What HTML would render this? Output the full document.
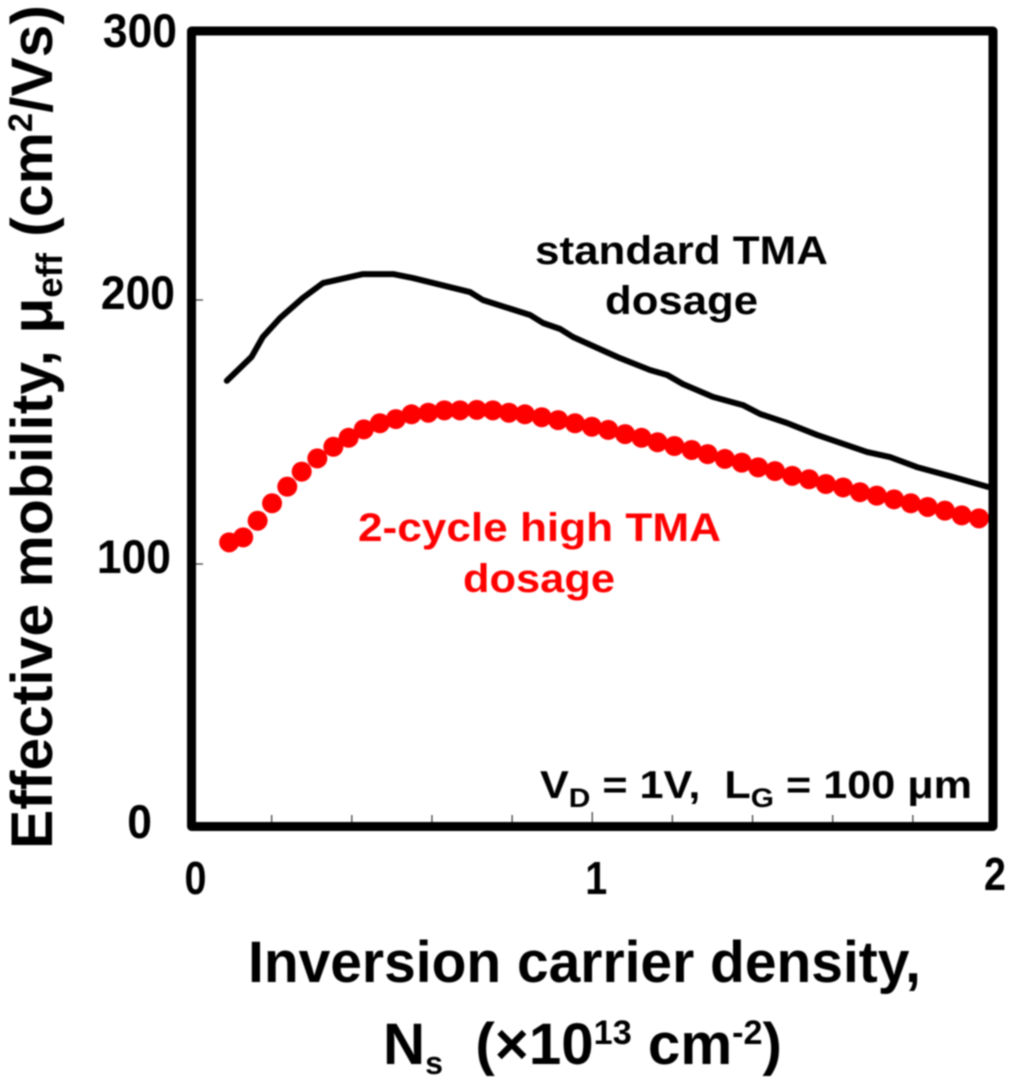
<!DOCTYPE html>
<html>
<head>
<meta charset="utf-8">
<title>Effective mobility vs inversion carrier density</title>
<style>
html,body{margin:0;padding:0;background:#fff;width:1024px;height:1085px;overflow:hidden}
svg{display:block;filter:blur(0.7px)}
text{font-family:"Liberation Sans",sans-serif;font-weight:bold;white-space:pre}
</style>
</head>
<body>
<svg id="chart" width="1024" height="1085" viewBox="0 0 1024 1085" xmlns="http://www.w3.org/2000/svg">
  <rect x="0" y="0" width="1024" height="1085" fill="#fff"/>
  <g id="ticks"></g>
  <g id="tick-labels"></g>
  <g id="series"></g>
  <rect x="191.5" y="31" width="801.5" height="795.5" fill="none" stroke="#000" stroke-width="9" stroke-linejoin="round"/>

  <text transform="translate(52,849) rotate(-90)" font-size="58" fill="#000" textLength="844" lengthAdjust="spacingAndGlyphs">Effective mobility, μ<tspan font-size="36" dy="10">eff</tspan><tspan dy="-10"> (cm</tspan><tspan font-size="34" dy="-20">2</tspan><tspan dy="20">/Vs)</tspan></text>

  <text x="248" y="982" font-size="58" fill="#000" textLength="673" lengthAdjust="spacingAndGlyphs">Inversion carrier density,</text>
  <text x="383" y="1064" font-size="58" fill="#000" textLength="399" lengthAdjust="spacingAndGlyphs">N<tspan font-size="32" dy="10">s</tspan><tspan dy="-10">  (×10</tspan><tspan font-size="34" dy="-20">13</tspan><tspan dy="20"> cm</tspan><tspan font-size="34" dy="-20">-2</tspan><tspan dy="20">)</tspan></text>

  <text x="535" y="264" font-size="40" fill="#000" textLength="293" lengthAdjust="spacingAndGlyphs">standard TMA</text>
  <text x="605" y="314" font-size="40" fill="#000" textLength="153" lengthAdjust="spacingAndGlyphs">dosage</text>
  <text x="358" y="541" font-size="40" fill="#ff0000" textLength="363" lengthAdjust="spacingAndGlyphs">2-cycle high TMA</text>
  <text x="463" y="592" font-size="40" fill="#ff0000" textLength="152" lengthAdjust="spacingAndGlyphs">dosage</text>
  <text x="540" y="798" font-size="39" fill="#000" textLength="432" lengthAdjust="spacingAndGlyphs">V<tspan font-size="27" dy="9">D</tspan><tspan dy="-9"> = 1V,  L</tspan><tspan font-size="27" dy="9">G</tspan><tspan dy="-9"> = 100 μm</tspan></text>
</svg>
<script>
// Chart data (x in 10^13 cm^-2, y in cm^2/Vs)
var xTickValues = [0.2,0.4,0.6,0.8,1,1.2,1.4,1.6,1.8];
var yTickValues = [100,200];
var xTickLabels = ["0","1","2"];
var xLabelValues = [0,1,2];
var yTickLabels = ["0","100","200","300"];
var yLabelValues = [0,100,200,300];

var standardNs = [0.088,0.150,0.178,0.221,0.278,0.328,0.428,0.503,0.553,0.695,0.727,0.845,0.877,0.920,0.952,1.019,1.069,1.144,1.187,1.226,1.301,1.376,1.419,1.486,1.561,1.686,1.743,1.810,1.900,1.987];
var standardMobility = [169.4,178.5,186,193.2,200.8,206.4,209.8,209.8,208.3,203,200,194.3,191.3,189,186,181.4,178,173.5,171.6,168.2,163.3,160.2,156.8,153.4,148.9,142.4,140.5,136.7,133,129.2];

var highNs = [0.094,0.129,0.165,0.201,0.239,0.275,0.314,0.354,0.392,0.430,0.470,0.510,0.549,0.591,0.631,0.670,0.712,0.752,0.792,0.832,0.874,0.915,0.957,0.999,1.040,1.082,1.123,1.163,1.205,1.248,1.288,1.331,1.373,1.414,1.456,1.499,1.541,1.583,1.626,1.668,1.710,1.753,1.795,1.837,1.880,1.922,1.965];
var highMobility = [108.2,110.1,116.4,123,129.3,135,140,144.4,147.8,151,153.3,154.9,156.7,157.3,158.2,158.2,158.4,158.2,157.3,156.7,155.6,154.5,153.3,152,150.8,149.2,147.8,146.1,144.7,143.2,141.6,139.8,138.4,136.6,135.2,133.4,132.1,130.3,129,127.2,125.9,124.5,123,121.6,120.2,118.4,117.3];

var NS = 'http://www.w3.org/2000/svg';
function xScale(v){ return 191.5 + v * 400.75; }
function yScale(v){ return 828 - v * 2.64; }
function make(tag, attrs, parent){
  var el = document.createElementNS(NS, tag);
  for (var k in attrs) el.setAttribute(k, attrs[k]);
  parent.appendChild(el);
  return el;
}

var ticksG = document.getElementById('ticks');
xTickValues.forEach(function(v){
  var major = v === 1;
  var t = make('line', {x1:xScale(v), x2:xScale(v), y1:824, y2:major ? 812 : 815, stroke:'#333', 'stroke-width':1.2}, ticksG);
  
  
});
yTickValues.forEach(function(v){
  var t = make('line', {x1:193, x2:203, y1:yScale(v), y2:yScale(v), stroke:'#333', 'stroke-width':1.2}, ticksG);
  
  
});

var labelsG = document.getElementById('tick-labels');
yLabelValues.forEach(function(v, i){
  var rightEdge = v === 0 ? 152 : v === 100 ? 171 : v === 200 ? 175 : 177;
  var t = make('text', {x:rightEdge, y:yScale(v) + (v === 0 ? 10 : v === 300 ? 11 : 9), 'font-size':47, 'text-anchor':'end', fill:'#000', textLength:yTickLabels[i].length * 24.7, lengthAdjust:'spacingAndGlyphs'}, labelsG);
  
  
  t.textContent = yTickLabels[i];
});
xLabelValues.forEach(function(v, i){
  var t = make('text', {x:xScale(v) + (v === 1 ? 4 : v === 2 ? 2 : 4), y:v === 2 ? 890 : 894, 'font-size':46, 'text-anchor':'middle', fill:'#000', textLength:22, lengthAdjust:'spacingAndGlyphs'}, labelsG);
  
  
  t.textContent = xTickLabels[i];
});

var seriesG = document.getElementById('series');
var pts = standardNs.map(function(x, i){ return xScale(x).toFixed(1) + ',' + yScale(standardMobility[i]).toFixed(1); }).join(' ');
var line = make('polyline', {points:pts, fill:'none', stroke:'#000', 'stroke-width':6, 'stroke-linejoin':'round', 'stroke-linecap':'round'}, seriesG);



highNs.forEach(function(x, i){
  var c = make('circle', {cx:xScale(x), cy:yScale(highMobility[i]), r:10, fill:'#ff0000'}, seriesG);
  
  
});
</script>
</body>
</html>
